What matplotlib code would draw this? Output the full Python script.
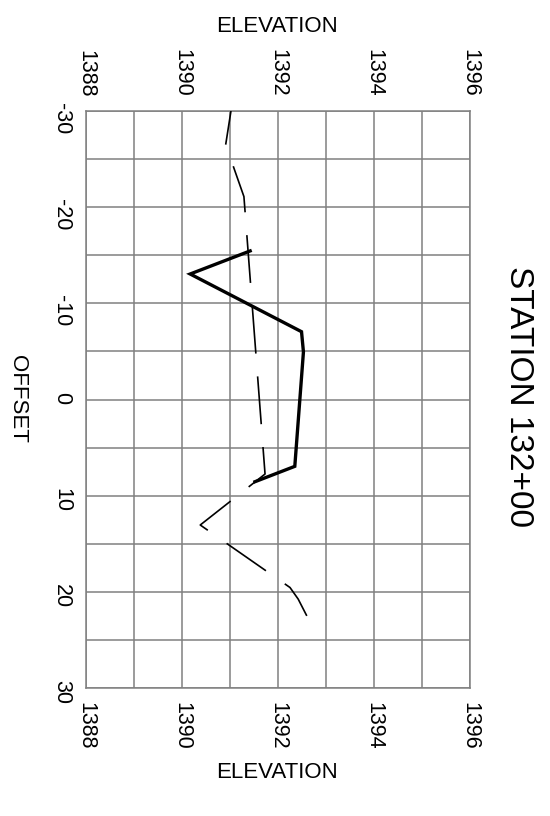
import numpy as np
import matplotlib
matplotlib.use("Agg")
import matplotlib.pyplot as plt

plt.rcParams['font.family'] = ['Liberation Sans', 'DejaVu Sans']
plt.rcParams['lines.scale_dashes'] = False
plt.rcParams['axes.unicode_minus'] = False

# existing ground (dashed) and proposed section (solid)
ground_offset = [-30, -26.5, -21.1, 7.75, 13.05, 19.55, 20.75, 22.5]
ground_elev = [1391.02, 1390.91, 1391.29, 1391.73, 1390.38, 1392.25, 1392.42, 1392.6]

design_offset = [-15.45, -13.05, -7.05, -4.95, 6.95, 8.55]
design_elev = [1391.42, 1390.17, 1392.49, 1392.53, 1392.35, 1391.52]

elev_ticks = [1388, 1390, 1392, 1394, 1396]
offset_ticks = [-30, -20, -10, 0, 10, 20, 30]

fig = plt.figure(figsize=(5.5, 8.16), dpi=100)
ax = fig.add_axes([86/550, 1-688/816, 384/550, 577/816])

# chart is drawn turned on its side: elevation across, offset down
ax.plot(ground_elev, ground_offset, color='black', lw=1.2,
        linestyle=(10, (34.5, 16.5)), zorder=3)
ax.plot(design_elev, design_offset, color='black', lw=2.4,
        solid_joinstyle='miter', zorder=4)

ax.set_xlim(1388, 1396)
ax.set_ylim(30, -30)
ax.set_xticks(elev_ticks)
ax.set_xticks(np.arange(1388, 1397, 1), minor=True)
ax.set_yticks(offset_ticks)
ax.set_yticks(np.arange(-30, 31, 5), minor=True)

ax.grid(True, which='both', color='#808080', lw=1.1)
ax.set_axisbelow(True)
for s in ax.spines.values():
    s.set_color('#808080')
    s.set_linewidth(1.1)

ax.tick_params(which='both', length=0)
ax.tick_params(axis='x', labeltop=True, labelbottom=True, labelrotation=-90,
               labelsize=15.5, pad=10)
ax.tick_params(axis='y', labelrotation=-90, labelsize=15.5, pad=10)

fig.text(277/550, 1-26/816, "ELEVATION", ha='center', va='center', fontsize=16)
fig.text(277/550, 1-773/816, "ELEVATION", ha='center', va='center', fontsize=16)
fig.text(17.5/550, 1-399/816, "OFFSET", ha='center', va='center',
         rotation=-90, fontsize=16)
fig.text(519/550, 1-396/816, "STATION 132+00", ha='center', va='center',
         rotation=-90, fontsize=24)

fig.savefig("out.png", dpi=100)
